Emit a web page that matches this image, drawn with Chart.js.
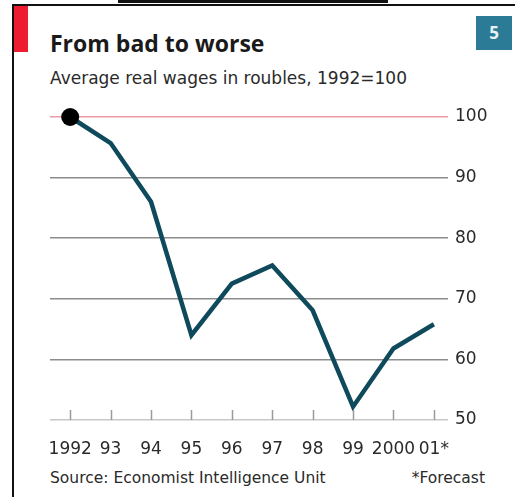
<!DOCTYPE html>
<html>
<head>
<meta charset="utf-8">
<script src="https://cdn.jsdelivr.net/npm/chart.js@4.4.1/dist/chart.umd.min.js"></script>
<style>
  html, body { margin: 0; padding: 0; background: #fff; }
  #wrap { position: relative; width: 515px; height: 497px; overflow: hidden;
          font-family: 'DejaVu Sans', sans-serif; color: #222; }
  .frame-top { position: absolute; left: 12px; top: 4px; right: 0; height: 2px; background: #111; }
  .frame-left { position: absolute; left: 12px; top: 4px; bottom: 0; width: 2px; background: #111; }
  .cut { position: absolute; left: 118px; top: 0; width: 270px; height: 3px; background: #111; }
  .redbar { position: absolute; left: 14px; top: 6px; width: 14px; height: 46px; background: #ed1c2e; }
  .num { position: absolute; left: 476px; top: 16px; width: 36px; height: 34px; background: #2b7b96;
         color: #e8f2f5; font: bold 17px 'Open Sans', sans-serif; text-align: center; line-height: 34px; }
  h1 { position: absolute; left: 50px; top: 27px; margin: 0; font: bold 23px 'Open Sans', sans-serif;
       color: #1a1a1a; }
  .sub { position: absolute; left: 50px; top: 68px; font-size: 17px; color: #2a2a2a; }
  .src { position: absolute; left: 50px; top: 469px; font-size: 15.5px; color: #2a2a2a; }
  .fc { position: absolute; right: 30px; top: 469px; font-size: 15.5px; color: #2a2a2a; }
  canvas { position: absolute; left: 0; top: 0; }
</style>
</head>
<body>
<div id="wrap">
  <div class="cut"></div>
  <div class="frame-top"></div>
  <div class="frame-left"></div>
  <div class="redbar"></div>
  <div class="num">5</div>
  <h1>From bad to worse</h1>
  <div class="sub">Average real wages in roubles, 1992=100</div>
  <div class="src">Source: Economist Intelligence Unit</div>
  <div class="fc">*Forecast</div>
  <canvas id="chartWages" width="515" height="497"></canvas>
</div>
<script>
'use strict';

/* ── DATA ── */
const years  = [1992, 1993, 1994, 1995, 1996, 1997, 1998, 1999, 2000, 2001];
const labels = ['1992', '93', '94', '95', '96', '97', '98', '99', '2000', '01*'];
const wages  = [100, 95.7, 86.0, 64.0, 72.5, 75.5, 68.1, 52.2, 61.8, 65.8];
const yTicks = [50, 60, 70, 80, 90, 100];

const LINE = '#0f4a5c';
const FONT = "'DejaVu Sans', sans-serif";

/* small upward ticks on the baseline at each year */
const yearTicks = {
  id: 'yearTicks',
  afterDatasetsDraw(chart) {
    const { ctx, scales: { x }, chartArea } = chart;
    ctx.save();
    ctx.strokeStyle = '#9a9a9a';
    ctx.lineWidth = 1.5;
    years.forEach(yr => {
      const px = Math.round(x.getPixelForValue(yr)) + 0.5;
      ctx.beginPath();
      ctx.moveTo(px, chartArea.bottom);
      ctx.lineTo(px, chartArea.bottom - 10);
      ctx.stroke();
    });
    ctx.restore();
  },
};

new Chart(document.getElementById('chartWages'), {
  type: 'line',
  data: {
    datasets: [{
      data: years.map((yr, i) => ({ x: yr, y: wages[i] })),
      borderColor: LINE,
      borderWidth: 4.5,
      tension: 0,
      fill: false,
      pointRadius: wages.map((v, i) => i === 0 ? 9 : 0),
      pointBackgroundColor: '#000',
      pointBorderWidth: 0,
      clip: false,
    }],
  },
  plugins: [yearTicks],
  options: {
    responsive: false,
    animation: false,
    layout: { padding: { left: 50, top: 117, right: 0, bottom: 0 } },
    plugins: { legend: { display: false }, tooltip: { enabled: false } },
    scales: {
      x: {
        type: 'linear',
        min: 1991.5,
        max: 2001.35,
        afterBuildTicks: s => { s.ticks = years.map(v => ({ value: v })); },
        afterFit: s => { s.height = 77; },
        grid: { display: false },
        border: { display: false },
        ticks: {
          padding: 11,
          maxRotation: 0,
          autoSkip: false,
          color: '#2a2a2a',
          font: { family: FONT, size: 17 },
          callback: v => labels[years.indexOf(v)],
        },
      },
      y: {
        position: 'right',
        min: 50,
        max: 100,
        afterBuildTicks: s => { s.ticks = yTicks.map(v => ({ value: v })); },
        afterFit: s => { s.width = 67; },
        border: { display: false },
        grid: {
          drawTicks: false,
          lineWidth: 1.5,
          color: c => c.tick.value === 100 ? '#ec9aa6' : c.tick.value === 50 ? '#c8c8c8' : '#8c8c8c',
        },
        ticks: {
          padding: 7,
          color: '#2a2a2a',
          font: { family: FONT, size: 17 },
        },
      },
    },
  },
});
</script>
</body>
</html>
